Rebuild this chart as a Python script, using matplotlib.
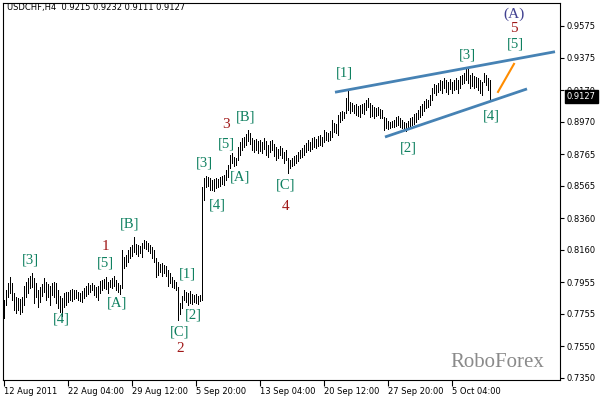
import matplotlib
matplotlib.use("Agg")
import matplotlib.pyplot as plt
import matplotlib.transforms as mtransforms

# USDCHF H4 bars (high / low), one per bar
highs = [
    0.7843, 0.7906, 0.7951, 0.7989, 0.7951, 0.7887, 0.7862, 0.7856, 0.7849, 0.7862,
    0.7932, 0.7957, 0.7982, 0.7995, 0.8014, 0.7982, 0.7951, 0.7906, 0.7925, 0.7944,
    0.7982, 0.7957, 0.7944, 0.7932, 0.7951, 0.7957, 0.7951, 0.7906, 0.7868, 0.7856,
    0.7887, 0.7894, 0.7894, 0.7906, 0.7913, 0.7906, 0.7906, 0.7894, 0.7887, 0.7900,
    0.7919, 0.7932, 0.7951, 0.7938, 0.7951, 0.7938, 0.7925, 0.7932, 0.7963, 0.7970,
    0.7976, 0.7989, 0.7957, 0.7970, 0.7982, 0.7995, 0.7970, 0.7951, 0.7938, 0.8159,
    0.8115, 0.8128, 0.8159, 0.8178, 0.8191, 0.8241, 0.8197, 0.8191, 0.8184, 0.8203,
    0.8222, 0.8216, 0.8203, 0.8191, 0.8178, 0.8159, 0.8109, 0.8083, 0.8071, 0.8077,
    0.8064, 0.8058, 0.8033, 0.8014, 0.7989, 0.7970, 0.7957, 0.7925, 0.7824, 0.7868,
    0.7906, 0.7894, 0.7887, 0.7900, 0.7881, 0.7875, 0.7881, 0.7868, 0.7875, 0.8557,
    0.8614, 0.8627, 0.8620, 0.8614, 0.8602, 0.8608, 0.8614, 0.8608, 0.8620, 0.8627,
    0.8633, 0.8665, 0.8696, 0.8760, 0.8772, 0.8747, 0.8741, 0.8810, 0.8842, 0.8867,
    0.8873, 0.8892, 0.8918, 0.8899, 0.8867, 0.8854, 0.8861, 0.8848, 0.8854, 0.8842,
    0.8867, 0.8848, 0.8823, 0.8848, 0.8854, 0.8829, 0.8810, 0.8797, 0.8816, 0.8804,
    0.8779, 0.8791, 0.8741, 0.8728, 0.8741, 0.8753, 0.8760, 0.8779, 0.8791, 0.8804,
    0.8823, 0.8835, 0.8854, 0.8842, 0.8867, 0.8873, 0.8861, 0.8880, 0.8886, 0.8873,
    0.8918, 0.8905, 0.8899, 0.8911, 0.8981, 0.8962, 0.8956, 0.9013, 0.9031, 0.9038,
    0.9031, 0.9120, 0.9177, 0.9095, 0.9088, 0.9076, 0.9082, 0.9069, 0.9076, 0.9082,
    0.9088, 0.9107, 0.9120, 0.9088, 0.9076, 0.9063, 0.9057, 0.9063, 0.9050, 0.9044,
    0.9000, 0.8994, 0.8975, 0.8968, 0.8975, 0.8981, 0.9000, 0.9006, 0.8994, 0.8981,
    0.8968, 0.8962, 0.8975, 0.8994, 0.9000, 0.9019, 0.9025, 0.9044, 0.9069, 0.9082,
    0.9101, 0.9114, 0.9107, 0.9139, 0.9183, 0.9208, 0.9202, 0.9215, 0.9234, 0.9227,
    0.9246, 0.9234, 0.9221, 0.9240, 0.9221, 0.9234, 0.9246, 0.9234, 0.9259, 0.9265,
    0.9278, 0.9316, 0.9303, 0.9265, 0.9278, 0.9259, 0.9253, 0.9246, 0.9234, 0.9221,
    0.9278, 0.9265, 0.9246, 0.9232,
]
lows = [
    0.7729, 0.7811, 0.7862, 0.7887, 0.7843, 0.7780, 0.7761, 0.7780, 0.7755, 0.7767,
    0.7811, 0.7862, 0.7887, 0.7919, 0.7925, 0.7824, 0.7862, 0.7799, 0.7830, 0.7868,
    0.7894, 0.7843, 0.7862, 0.7811, 0.7875, 0.7862, 0.7824, 0.7792, 0.7767, 0.7742,
    0.7799, 0.7811, 0.7830, 0.7843, 0.7837, 0.7849, 0.7856, 0.7843, 0.7837, 0.7830,
    0.7856, 0.7868, 0.7881, 0.7894, 0.7906, 0.7875, 0.7862, 0.7843, 0.7887, 0.7906,
    0.7919, 0.7913, 0.7887, 0.7925, 0.7919, 0.7932, 0.7906, 0.7894, 0.7881, 0.7919,
    0.8045, 0.8058, 0.8083, 0.8109, 0.8121, 0.8146, 0.8134, 0.8121, 0.8140, 0.8115,
    0.8172, 0.8165, 0.8153, 0.8140, 0.8109, 0.8083, 0.7989, 0.8001, 0.8020, 0.7995,
    0.8014, 0.7995, 0.7932, 0.7951, 0.7925, 0.7919, 0.7906, 0.7717, 0.7755, 0.7792,
    0.7843, 0.7830, 0.7811, 0.7824, 0.7818, 0.7830, 0.7824, 0.7818, 0.7837, 0.7843,
    0.8475, 0.8557, 0.8563, 0.8538, 0.8538, 0.8532, 0.8551, 0.8557, 0.8563, 0.8576,
    0.8570, 0.8602, 0.8620, 0.8677, 0.8709, 0.8690, 0.8696, 0.8728, 0.8760, 0.8791,
    0.8810, 0.8823, 0.8848, 0.8829, 0.8791, 0.8779, 0.8791, 0.8772, 0.8785, 0.8772,
    0.8797, 0.8760, 0.8747, 0.8779, 0.8791, 0.8753, 0.8728, 0.8741, 0.8760, 0.8741,
    0.8709, 0.8728, 0.8646, 0.8677, 0.8690, 0.8696, 0.8709, 0.8722, 0.8741, 0.8747,
    0.8760, 0.8779, 0.8791, 0.8785, 0.8797, 0.8810, 0.8804, 0.8816, 0.8823, 0.8816,
    0.8842, 0.8854, 0.8848, 0.8854, 0.8873, 0.8905, 0.8899, 0.8886, 0.8968, 0.8981,
    0.8994, 0.9025, 0.9044, 0.9025, 0.9038, 0.9025, 0.9013, 0.9006, 0.9000, 0.9025,
    0.9019, 0.9044, 0.9063, 0.9000, 0.9006, 0.8994, 0.9006, 0.9013, 0.8994, 0.8994,
    0.8918, 0.8930, 0.8924, 0.8930, 0.8937, 0.8937, 0.8943, 0.8949, 0.8937, 0.8930,
    0.8918, 0.8911, 0.8924, 0.8930, 0.8949, 0.8956, 0.8968, 0.8987, 0.9000, 0.9013,
    0.9038, 0.9057, 0.9063, 0.9076, 0.9107, 0.9152, 0.9139, 0.9158, 0.9170, 0.9152,
    0.9183, 0.9158, 0.9145, 0.9177, 0.9152, 0.9170, 0.9177, 0.9152, 0.9183, 0.9208,
    0.9215, 0.9234, 0.9215, 0.9183, 0.9196, 0.9183, 0.9189, 0.9170, 0.9152, 0.9139,
    0.9221, 0.9202, 0.9170, 0.9111,
]
last_price = 0.9127
header = "USDCHF,H4  0.9215 0.9232 0.9111 0.9127"

price_ticks = [0.9575, 0.9375, 0.9170, 0.8970, 0.8765, 0.8565, 0.8360,
               0.8160, 0.7955, 0.7755, 0.7550, 0.7350]
date_ticks = [0, 32, 64, 96, 128, 160, 192, 224]
date_labels = ["12 Aug 2011", "22 Aug 04:00", "29 Aug 12:00", "5 Sep 20:00",
               "13 Sep 04:00", "20 Sep 12:00", "27 Sep 20:00", "5 Oct 04:00"]

# wave marks: text, bar index, price
green_labels = [
    ("[3]", 13, 0.8096), ("[4]", 28.5, 0.7723), ("[5]", 50.5, 0.8077),
    ("[A]", 56.5, 0.7824), ("[B]", 63, 0.8323), ("[1]", 91.5, 0.8007),
    ("[2]", 94.5, 0.7748), ("[C]", 88, 0.7641), ("[3]", 100, 0.8709),
    ("[4]", 106.5, 0.8443), ("[5]", 111, 0.8829), ("[A]", 118, 0.8620),
    ("[B]", 121, 0.9000), ("[C]", 141, 0.8570), ("[1]", 170, 0.9278),
    ("[2]", 202, 0.8804), ("[3]", 231.5, 0.9392), ("[4]", 243.5, 0.9006),
    ("[5]", 255.5, 0.9461),
]
red_labels = [("1", 50.5, 0.8178), ("2", 88, 0.7533), ("3", 111, 0.8949),
              ("4", 141, 0.8431), ("5", 255, 0.9556)]
blue_labels = [("(A)", 255, 0.9651)]

# channel lines and expected move
upper_x, upper_y = [165.5, 275.5], [0.9156, 0.9412]
lower_x, lower_y = [190.5, 261.5], [0.8873, 0.9177]
arrow_x, arrow_y = [247, 255], [0.9158, 0.9335]

plt.rcParams['font.family'] = ['DejaVu Sans']

fig = plt.figure(figsize=(6.02, 3.98), dpi=100)
ax = fig.add_axes([3 / 602, 18 / 398, 557 / 602, 377 / 398])

x = list(range(len(highs)))
ax.vlines(x, lows, highs, colors='black', linewidth=0.6, antialiased=False)

ax.plot(upper_x, upper_y, color='#4682B4', linewidth=2.0, solid_capstyle='butt')
ax.plot(lower_x, lower_y, color='#4682B4', linewidth=2.0, solid_capstyle='butt')
ax.plot(arrow_x, arrow_y, color='#FF8C00', linewidth=1.5)

serif = ['Liberation Serif', 'DejaVu Serif']
for t, xi, yi in green_labels:
    ax.text(xi, yi, t, color='#0f8060', fontsize=10.5, family=serif,
            ha='center', va='center')
for t, xi, yi in red_labels:
    ax.text(xi, yi, t, color='#a01818', fontsize=11, family=serif,
            ha='center', va='center')
for t, xi, yi in blue_labels:
    ax.text(xi, yi, t, color='#404090', fontsize=11, family=serif,
            ha='center', va='center')

ax.text(0.888, 0.047, "RoboForex", transform=ax.transAxes, color='#8a8a8a',
        fontsize=15, family=serif, ha='center', va='center')

ax.set_xlim(-0.5, 278)
ax.set_ylim(0.7337, 0.9720)

ax.yaxis.tick_right()
ax.set_yticks(price_ticks)
ax.set_yticklabels([f"{v:.4f}" for v in price_ticks])
ax.tick_params(axis='y', direction='out', length=3, width=0.8, pad=2,
               labelsize=6)

ax.set_xticks(date_ticks)
ax.set_xticklabels(date_labels)
ax.tick_params(axis='x', direction='out', length=4, width=0.8, pad=1,
               labelsize=6)
for lbl in ax.get_xticklabels():
    lbl.set_horizontalalignment('left')

for s in ax.spines.values():
    s.set_linewidth(0.8)
    s.set_color('black')

# current price box on the price scale
trans = mtransforms.blended_transform_factory(ax.transAxes, ax.transData)
ax.text(1.012, last_price, f"{last_price:.4f}", transform=trans, color='white',
        fontsize=6, ha='left', va='center', clip_on=False, zorder=5,
        bbox=dict(boxstyle='square,pad=0.25', facecolor='black',
                  edgecolor='black'))

fig.text(7 / 602, 1 - 3 / 398, header, fontsize=6, ha='left', va='top')

fig.savefig("out.png", dpi=100)
